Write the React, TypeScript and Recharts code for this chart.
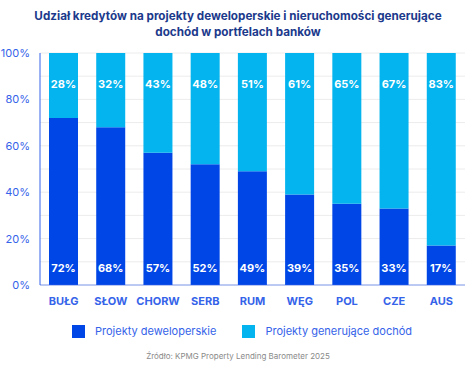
import { Bar, BarChart, CartesianGrid, LabelList, XAxis, YAxis } from 'recharts';

const countries = ['BUŁG', 'SŁOW', 'CHORW', 'SERB', 'RUM', 'WĘG', 'POL', 'CZE', 'AUS'];
const developmentShare = [72, 68, 57, 52, 49, 39, 35, 33, 17];
const incomeShare = [28, 32, 43, 48, 51, 61, 65, 67, 83];
const yTicks = [0, 10, 20, 30, 40, 50, 60, 70, 80, 90, 100];

const COLORS = {
  DEV: '#0046e6',
  INCOME: '#04b4ee',
  TITLE: '#1c3a8c',
  AXIS: '#3563e9',
  GRID: '#ececec',
  SOURCE: '#8a8a8a',
} as const;

const FONT = 'Inter, "DejaVu Sans", sans-serif';

const PLOT = {
  TOP: 53,
  BOTTOM: 285,
} as const;

const chartData = countries.map((name, i) => ({
  name,
  dev: developmentShare[i],
  income: incomeShare[i],
}));

const BottomLabel = (props: any) => {
  const { x, width, value } = props;
  return (
    <text
      x={x + width / 2}
      y={PLOT.BOTTOM - 13}
      textAnchor="middle"
      fill="#ffffff"
      fontSize={11}
      fontWeight={700}
      fontFamily={FONT}
    >
      {value}%
    </text>
  );
};

const TopLabel = (props: any) => {
  const { x, width, value } = props;
  return (
    <text
      x={x + width / 2}
      y={PLOT.TOP + 35}
      textAnchor="middle"
      fill="#ffffff"
      fontSize={11}
      fontWeight={700}
      fontFamily={FONT}
    >
      {value}%
    </text>
  );
};

const LegendItem = ({ color, label }: { color: string; label: string }) => (
  <div style={{ display: 'flex', alignItems: 'center', gap: 10 }}>
    <div style={{ width: 13, height: 13, background: color }} />
    <span style={{ color: COLORS.AXIS, fontSize: 11 }}>{label}</span>
  </div>
);

export default function App() {
  return (
    <div
      style={{
        position: 'absolute',
        left: 0,
        top: 0,
        width: 476,
        height: 372,
        background: '#ffffff',
        fontFamily: FONT,
      }}
    >
      <div
        style={{
          position: 'absolute',
          top: 8,
          left: 0,
          width: 476,
          textAlign: 'center',
          color: COLORS.TITLE,
          fontSize: 11.7,
          fontWeight: 700,
          lineHeight: '16px',
        }}
      >
        Udział kredytów na projekty deweloperskie i nieruchomości generujące
        <br />
        dochód w portfelach banków
      </div>
      <BarChart
        width={476}
        height={372}
        data={chartData}
        margin={{ top: PLOT.TOP, right: 11, bottom: 372 - PLOT.BOTTOM - 28, left: 0 }}
        barSize={29}
      >
        <CartesianGrid stroke={COLORS.GRID} vertical={false} />
        <XAxis
          dataKey="name"
          height={28}
          axisLine={{ stroke: COLORS.AXIS, strokeOpacity: 0.6 }}
          tickLine={false}
          tick={{ fill: COLORS.AXIS, fontSize: 11, fontWeight: 700, fontFamily: FONT }}
          tickMargin={6}
        />
        <YAxis
          width={40}
          domain={[0, 100]}
          ticks={yTicks}
          interval={0}
          axisLine={{ stroke: COLORS.AXIS }}
          tickLine={false}
          tick={{ fill: COLORS.AXIS, fontSize: 11, fontFamily: FONT }}
          tickFormatter={(v: number) => (v % 20 === 0 ? `${v}%` : '')}
          tickMargin={4}
        />
        <Bar dataKey="dev" stackId="a" fill={COLORS.DEV} isAnimationActive={false}>
          <LabelList dataKey="dev" content={BottomLabel} />
        </Bar>
        <Bar dataKey="income" stackId="a" fill={COLORS.INCOME} isAnimationActive={false}>
          <LabelList dataKey="income" content={TopLabel} />
        </Bar>
      </BarChart>
      <div
        style={{
          position: 'absolute',
          top: 324,
          left: 72,
          display: 'flex',
          gap: 26,
        }}
      >
        <LegendItem color={COLORS.DEV} label="Projekty deweloperskie" />
        <LegendItem color={COLORS.INCOME} label="Projekty generujące dochód" />
      </div>
      <div
        style={{
          position: 'absolute',
          top: 351,
          left: 0,
          width: 476,
          textAlign: 'center',
          color: COLORS.SOURCE,
          fontSize: 8,
        }}
      >
        Źródło: KPMG Property Lending Barometer 2025
      </div>
    </div>
  );
}
